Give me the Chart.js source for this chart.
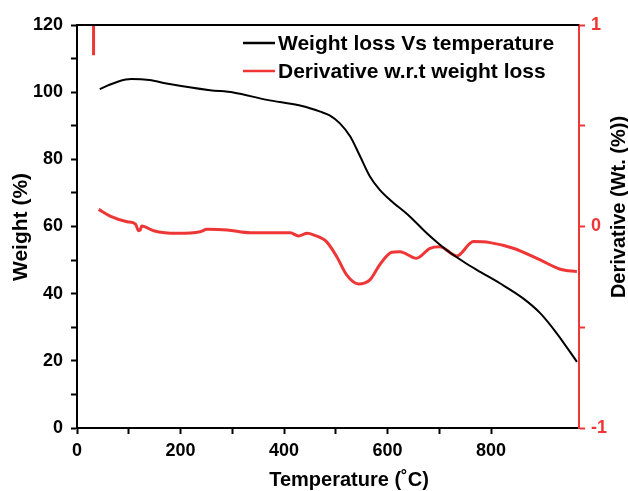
<!DOCTYPE html>
<html>
<head>
<meta charset="utf-8">
<script src="https://cdn.jsdelivr.net/npm/chart.js@4/dist/chart.umd.min.js"></script>
<style>
  html, body { margin: 0; padding: 0; background: #fff; }
  #wrap { width: 628px; height: 491px; }
</style>
</head>
<body>
<div id="wrap"><canvas id="c1"></canvas></div>
<script>
// TGA curve: weight (%) vs temperature
const weightTemp = [44, 60, 80, 105, 140, 173, 257, 302, 367, 431, 450, 470, 489, 508, 528, 547, 566, 585, 605, 643, 676, 714, 747, 779, 817, 862, 895, 927, 966];
const weight = [100.9, 102.0, 103.2, 103.9, 103.6, 102.6, 100.6, 99.9, 97.7, 96.0, 95.2, 94.2, 93.0, 90.7, 86.8, 80.9, 74.9, 70.9, 67.9, 63.0, 58.0, 53.0, 49.5, 46.5, 43.1, 38.6, 34.2, 28.2, 19.7];

// DTG curve: derivative vs temperature
const derivTemp = [42, 64, 97, 113, 119, 122, 125, 148, 193, 238, 251, 290, 335, 412, 428, 445, 457, 482, 502, 521, 544, 566, 585, 608, 624, 656, 682, 701, 734, 766, 798, 843, 895, 934, 966];
const deriv = [0.085, 0.052, 0.024, 0.012, -0.021, -0.018, 0.002, -0.021, -0.034, -0.026, -0.014, -0.017, -0.031, -0.031, -0.047, -0.034, -0.042, -0.075, -0.15, -0.24, -0.285, -0.265, -0.19, -0.128, -0.125, -0.158, -0.108, -0.1, -0.146, -0.075, -0.08, -0.108, -0.166, -0.212, -0.224];

// start-up spike of the derivative at the left edge
const spikeTemp = [32, 32];
const spikeDeriv = [1, 0.85];

const xTicks = [0, 200, 400, 600, 800];
const weightTicks = [0, 20, 40, 60, 80, 100, 120];
const derivTicks = [-1, 0, 1];

const labels = ['Weight loss Vs temperature', 'Derivative w.r.t weight loss'];
const xTitle = 'Temperature (˚C)';
const yTitle = 'Weight (%)';
const y2Title = 'Derivative (Wt. (%))';
const red = '#ee3636';

const weightData = weightTemp.map((t, i) => ({x: t, y: weight[i]}));
const derivData = spikeTemp.map((t, i) => ({x: t, y: spikeDeriv[i]}))
  .concat([{x: 37, y: null}])
  .concat(derivTemp.map((t, i) => ({x: t, y: deriv[i]})));

const FONT = '"Liberation Sans", Arial, sans-serif';

// frame top line, legend inside the plot, and axis titles
const boxLegend = {
  id: 'boxLegend',
  afterDraw(chart) {
    const ctx = chart.ctx;
    const a = chart.chartArea;
    ctx.save();
    ctx.strokeStyle = '#000';
    ctx.lineWidth = 2;
    ctx.beginPath();
    ctx.moveTo(a.left, a.top);
    ctx.lineTo(a.right, a.top);
    ctx.stroke();

    ctx.font = 'bold 21px ' + FONT;
    ctx.textBaseline = 'middle';
    chart.data.datasets.forEach((ds, i) => {
      const y = a.top + 18 + i * 28;
      ctx.strokeStyle = ds.borderColor;
      ctx.lineWidth = 2.5;
      ctx.beginPath();
      ctx.moveTo(243, y);
      ctx.lineTo(275, y);
      ctx.stroke();
      ctx.fillStyle = '#000';
      ctx.fillText(ds.label, 278, y + 1);
    });

    ctx.fillStyle = '#000';
    ctx.font = 'bold 20px ' + FONT;
    ctx.textAlign = 'center';
    ctx.fillText(xTitle, 349, 480);

    ctx.font = 'bold 21px ' + FONT;
    ctx.translate(21, 227);
    ctx.rotate(-Math.PI / 2);
    ctx.fillText(yTitle, 0, 0);
    ctx.rotate(Math.PI / 2);
    ctx.translate(-21, -227);

    ctx.font = 'bold 20px ' + FONT;
    ctx.translate(619, 207);
    ctx.rotate(-Math.PI / 2);
    ctx.fillText(y2Title, 0, 0);
    ctx.restore();
  }
};

const ctx = document.getElementById('c1').getContext('2d');
const myChart = new Chart(ctx, {
  type: 'line',
  data: {
    datasets: [{
      label: labels[0],
      data: weightData,
      yAxisID: 'y',
      borderColor: '#000',
      borderWidth: 2,
      pointRadius: 0,
      cubicInterpolationMode: 'monotone'
    }, {
      label: labels[1],
      data: derivData,
      yAxisID: 'y2',
      borderColor: red,
      borderWidth: 3,
      pointRadius: 0,
      spanGaps: false,
      cubicInterpolationMode: 'monotone'
    }]
  },
  options: {
    responsive: true,
    maintainAspectRatio: false,
    animation: false,
    layout: { padding: { top: 25, left: 0, right: 0, bottom: 0 } },
    plugins: { legend: { display: false }, tooltip: { enabled: false } },
    scales: {
      x: {
        type: 'linear',
        min: 0,
        max: 970,
        afterFit: s => { s.height = 63; },
        afterBuildTicks: s => { s.ticks = s.ticks.filter(t => t.value % 100 === 0); },
        ticks: {
          stepSize: 100,
          color: '#000',
          padding: 6,
          font: { family: FONT, size: 18, weight: 'bold' },
          callback: v => xTicks.includes(v) ? String(v) : ''
        },
        grid: { drawOnChartArea: false, tickLength: 6, tickWidth: 2, tickColor: '#000' },
        border: { color: '#000', width: 2 }
      },
      y: {
        position: 'left',
        min: 0,
        max: 120,
        afterFit: s => { s.width = 77; },
        ticks: {
          stepSize: 10,
          color: '#000',
          padding: 8,
          font: { family: FONT, size: 18, weight: 'bold' },
          callback: v => weightTicks.includes(v) ? String(v) : ''
        },
        grid: { drawOnChartArea: false, tickLength: 6, tickWidth: 2, tickColor: '#000' },
        border: { color: '#000', width: 2 }
      },
      y2: {
        position: 'right',
        min: -1,
        max: 1,
        afterFit: s => { s.width = 49; },
        ticks: {
          stepSize: 0.5,
          color: red,
          padding: 6,
          font: { family: FONT, size: 18, weight: 'bold' },
          callback: v => derivTicks.includes(v) ? String(v) : ''
        },
        grid: { drawOnChartArea: false, tickLength: 6, tickWidth: 2, tickColor: red },
        border: { color: red, width: 2 }
      }
    }
  },
  plugins: [boxLegend]
});
</script>
</body>
</html>
